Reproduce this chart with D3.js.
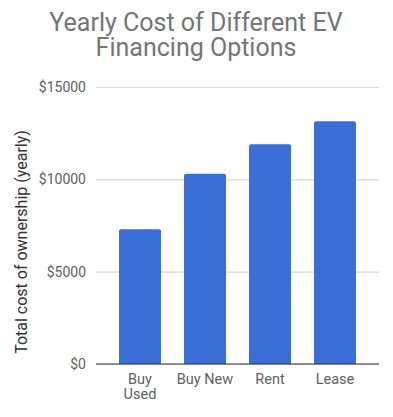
<!DOCTYPE html>
<html>
<head>
<meta charset="utf-8">
<script src="https://cdn.jsdelivr.net/npm/d3@7"></script>
<style>
  body { margin: 0; background: #fff; }
  text { font-family: Roboto, "Noto Sans", sans-serif; }
</style>
</head>
<body>
<div id="chart"></div>
<script>
// chart data
const categories = ["Buy Used", "Buy New", "Rent", "Lease"];
const values = [7300, 10300, 11900, 13150];
const yTicks = [0, 5000, 10000, 15000];
const titleLines = ["Yearly Cost of Different EV", "Financing Options"];
const yTitle = "Total cost of ownership (yearly)";

const W = 393, H = 417;
const margin = {top: 87, right: 14, bottom: 53, left: 96};
const width = W - margin.left - margin.right,
      height = H - margin.top - margin.bottom;

const svg = d3.select("#chart").append("svg")
    .attr("width", W)
    .attr("height", H);

// title, one text per line
svg.selectAll(".title")
    .data(titleLines)
  .enter().append("text")
    .attr("class", "title")
    .attr("x", 196)
    .attr("y", (d, i) => 31 + i * 25)
    .attr("text-anchor", "middle")
    .attr("fill", "#757575")
    .style("font-size", "25px")
    .text(d => d);

const g = svg.append("g")
    .attr("transform", `translate(${margin.left},${margin.top})`);

const x = d3.scaleBand()
    .domain(categories)
    .range([0, width])
    .paddingInner(0.354)
    .paddingOuter(0.354);

const y = d3.scaleLinear()
    .domain([0, 15000])
    .range([height, 0]);

// gridlines + y labels
const yAxis = g.append("g")
    .call(d3.axisLeft(y).tickValues(yTicks).tickSize(-width).tickPadding(10).tickFormat(d => "$" + d));
yAxis.select(".domain").remove();
yAxis.selectAll(".tick line").attr("stroke", "#d9d9d9").attr("stroke-width", 1.2);
yAxis.selectAll(".tick text")
    .attr("fill", "#5f5f5f")
    .style("font-size", "14px");

// bars with slightly rounded tops
g.selectAll(".bar")
    .data(values)
  .enter().append("path")
    .attr("class", "bar")
    .attr("fill", "#3a6fd9")
    .attr("d", (d, i) => {
      const x0 = x(categories[i]), w = x.bandwidth(), y0 = y(d), r = 2;
      return `M${x0},${height}V${y0 + r}Q${x0},${y0} ${x0 + r},${y0}H${x0 + w - r}Q${x0 + w},${y0} ${x0 + w},${y0 + r}V${height}Z`;
    });

// baseline
g.append("line")
    .attr("x1", 0).attr("x2", width)
    .attr("y1", height).attr("y2", height)
    .attr("stroke", "#333").attr("stroke-width", 1.2);

// x labels, first one wrapped onto two lines
const xLines = [];
categories.forEach((c, i) => {
  const parts = i === 0 ? c.split(" ") : [c];
  parts.forEach((p, j) => xLines.push({cat: c, text: p, line: j}));
});
g.selectAll(".xlabel")
    .data(xLines)
  .enter().append("text")
    .attr("class", "xlabel")
    .attr("x", d => x(d.cat) + x.bandwidth() / 2)
    .attr("y", d => height + 20 + d.line * 15)
    .attr("text-anchor", "middle")
    .attr("fill", "#5f5f5f")
    .style("font-size", "14.5px")
    .text(d => d.text);

// y axis title
svg.append("text")
    .attr("transform", `translate(27,242) rotate(-90)`)
    .attr("text-anchor", "middle")
    .attr("fill", "#333")
    .style("font-size", "16px")
    .text(yTitle);
</script>
</body>
</html>
